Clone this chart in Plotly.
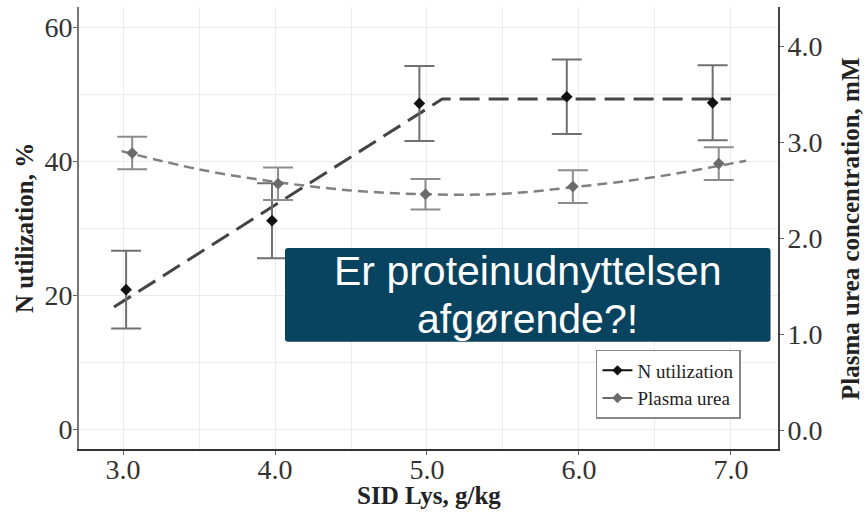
import plotly.graph_objects as go

# SID lysine level (g/kg) and measured responses with SE
n_x = [3.02, 3.98, 4.95, 5.92, 6.88]
n_util = [20.8, 31.1, 48.6, 49.6, 48.7]
n_err = [5.8, 5.6, 5.6, 5.55, 5.6]

urea_x = [3.06, 4.02, 4.99, 5.96, 6.92]
urea = [2.89, 2.57, 2.46, 2.54, 2.78]
urea_err = [0.17, 0.17, 0.16, 0.17, 0.17]

# broken-line fit for N utilization
n_fit_x = [2.94, 5.10, 7.00]
n_fit_y = [18.2, 49.25, 49.25]

# quadratic fit for plasma urea
urea_fit_x = [2.99, 3.5, 4.0, 4.5, 5.0, 5.5, 6.0, 6.5, 7.1]
urea_fit_y = [2.91, 2.72, 2.59, 2.50, 2.46, 2.465, 2.54, 2.64, 2.81]

x_ticks = [3.0, 4.0, 5.0, 6.0, 7.0]
y_ticks = [0, 20, 40, 60]
y2_ticks = [0.0, 1.0, 2.0, 3.0, 4.0]

SERIF = "Liberation Serif, Times New Roman, serif"
SANS = "Liberation Sans, Arial, sans-serif"

fig = go.Figure()

fig.add_trace(go.Scatter(
    x=n_fit_x, y=n_fit_y, mode="lines", yaxis="y",
    line=dict(color="#444444", width=3, dash="20px,9px"),
    showlegend=False, hoverinfo="skip"))

fig.add_trace(go.Scatter(
    x=urea_fit_x, y=urea_fit_y, mode="lines", yaxis="y2",
    line=dict(color="#808080", width=2.5, dash="10px,6px", shape="spline", smoothing=1.0),
    showlegend=False, hoverinfo="skip"))

fig.add_trace(go.Scatter(
    x=n_x, y=n_util, mode="markers", yaxis="y",
    marker=dict(symbol="diamond", size=9, color="#111111"),
    error_y=dict(type="data", array=n_err, color="#707070", thickness=2, width=15),
    showlegend=False))

fig.add_trace(go.Scatter(
    x=urea_x, y=urea, mode="markers", yaxis="y2",
    marker=dict(symbol="diamond", size=9, color="#6a6a6a"),
    error_y=dict(type="data", array=urea_err, color="#8c8c8c", thickness=2, width=15),
    showlegend=False))

# legend keys
fig.add_trace(go.Scatter(
    x=[None], y=[None], mode="lines+markers", name="N utilization",
    line=dict(color="#111111", width=2), marker=dict(symbol="diamond", size=8, color="#111111")))
fig.add_trace(go.Scatter(
    x=[None], y=[None], mode="lines+markers", name="Plasma urea", yaxis="y2",
    line=dict(color="#6a6a6a", width=2), marker=dict(symbol="diamond", size=8, color="#6a6a6a")))

axis_common = dict(
    ticks="outside", ticklen=4, tickwidth=1, tickcolor="#666666",
    tickfont=dict(family=SERIF, size=28, color="#333333"),
    zeroline=False, showline=True, linewidth=2,
)

fig.update_layout(
    width=866, height=512,
    margin=dict(l=79, r=88, t=7, b=63),
    paper_bgcolor="white", plot_bgcolor="white",
    xaxis=dict(
        range=[2.71, 7.31], tickvals=x_ticks, ticktext=[f"{v:.1f}" for v in x_ticks],
        showgrid=True, gridcolor="#ebebeb", gridwidth=1,
        minor=dict(dtick=0.5, tick0=3.0, showgrid=True, gridcolor="#ebebeb", gridwidth=1, ticks=""),
        linecolor="#333333", ticklabelstandoff=-10, **axis_common),
    yaxis=dict(
        range=[-2.985, 63.0], tickvals=y_ticks,
        showgrid=True, gridcolor="#ebebeb", gridwidth=1,
        minor=dict(dtick=10, tick0=0, showgrid=True, gridcolor="#ebebeb", gridwidth=1, ticks=""),
        linecolor="#777777", ticklabelstandoff=-5, **axis_common),
    yaxis2=dict(
        range=[-0.198, 4.414], tickvals=y2_ticks, ticktext=[f"{v:.1f}" for v in y2_ticks],
        overlaying="y", side="right", showgrid=False,
        linecolor="#444444", ticklabelstandoff=-2, **axis_common),
    legend=dict(
        x=0.7396, y=0.224, xanchor="left", yanchor="top",
        bgcolor="white", bordercolor="#888888", borderwidth=1.5,
        font=dict(family=SERIF, size=19, color="#222222"),
        traceorder="normal"),
    showlegend=True,
)

# axis titles
title_font = dict(family=SERIF, size=25, color="#222222", weight="bold")
fig.add_annotation(text="N utilization, %", xref="paper", yref="paper",
                   x=-0.0787, y=0.5, textangle=-90, showarrow=False,
                   xanchor="center", yanchor="middle", font=title_font)
fig.add_annotation(text="Plasma urea concentration, mM", xref="paper", yref="paper",
                   x=1.103, y=0.5, textangle=-90, showarrow=False,
                   xanchor="center", yanchor="middle", font=title_font)
fig.add_annotation(text="SID Lys, g/kg", xref="paper", yref="paper",
                   x=0.5, y=-0.106, showarrow=False,
                   xanchor="center", yanchor="middle", font=title_font)

# callout box with rounded corners
x0, x1, y0, y1 = 0.2947, 0.9893, 0.2428, 0.4548
rx, ry = 0.0043, 0.0068
path = (f"M {x0+rx},{y0} L {x1-rx},{y0} Q {x1},{y0} {x1},{y0+ry} "
        f"L {x1},{y1-ry} Q {x1},{y1} {x1-rx},{y1} L {x0+rx},{y1} "
        f"Q {x0},{y1} {x0},{y1-ry} L {x0},{y0+ry} Q {x0},{y0} {x0+rx},{y0} Z")
fig.add_shape(type="path", path=path, xref="paper", yref="paper",
              fillcolor="#08435f", line=dict(width=0), layer="above")

box_font = dict(family=SANS, size=41, color="white")
fig.add_annotation(text="Er proteinudnyttelsen", xref="paper", yref="paper",
                   x=0.642, y=0.4027, showarrow=False,
                   xanchor="center", yanchor="middle", font=box_font)
fig.add_annotation(text="afgørende?!", xref="paper", yref="paper",
                   x=0.642, y=0.2941, showarrow=False,
                   xanchor="center", yanchor="middle", font=box_font)

fig.write_html("out.html")
